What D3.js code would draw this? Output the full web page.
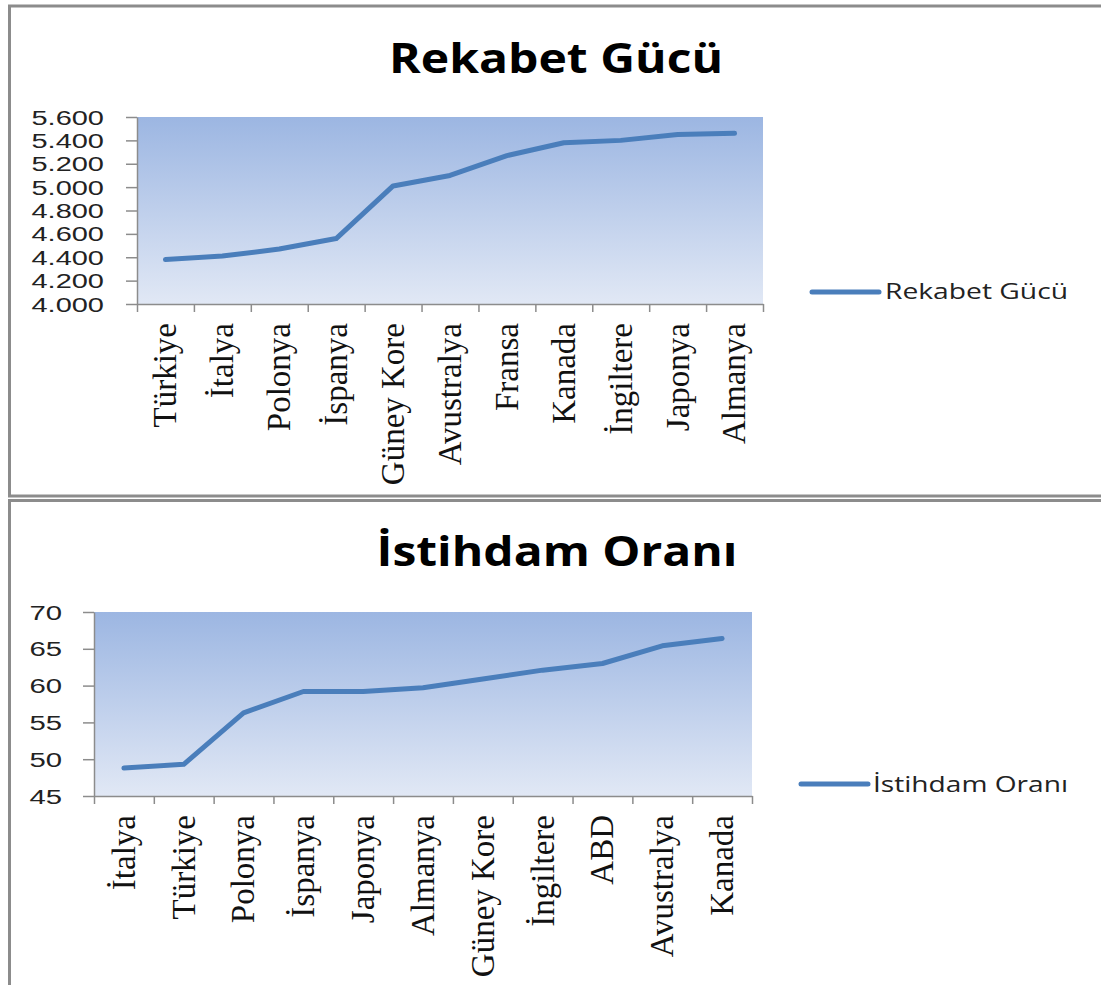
<!DOCTYPE html>
<html>
<head>
<meta charset="utf-8">
<script src="https://cdn.jsdelivr.net/npm/d3@7"></script>
<style>
  body { margin: 0; background: #fff; }
  svg { display: block; }
</style>
</head>
<body>
<div class="charts"></div>
<script>
// Rekabet Gücü
const rekabetCategories = ["Türkiye", "İtalya", "Polonya", "İspanya", "Güney Kore", "Avustralya", "Fransa", "Kanada", "İngiltere", "Japonya", "Almanya"];
const rekabetValues = [4.38, 4.41, 4.47, 4.56, 5.01, 5.10, 5.27, 5.38, 5.40, 5.45, 5.46];
const rekabetTicks = [4.0, 4.2, 4.4, 4.6, 4.8, 5.0, 5.2, 5.4, 5.6];

// İstihdam Oranı
const istihdamCategories = ["İtalya", "Türkiye", "Polonya", "İspanya", "Japonya", "Almanya", "Güney Kore", "İngiltere", "ABD", "Avustralya", "Kanada"];
const istihdamValues = [48.8, 49.3, 56.3, 59.2, 59.2, 59.7, 60.9, 62.1, 63.0, 65.4, 66.4];
const istihdamTicks = [45, 50, 55, 60, 65, 70];

const width = 1101;
const height = 985;
const lineColor = "#4a7ebb";
const axisColor = "#8c8c8c";

const svg = d3.select('.charts')
	.append('svg')
	.attr('width', width)
	.attr('height', height)

const defs = svg.append("defs");
const grad = defs.append("linearGradient")
	.attr("id", "plotFill")
	.attr("x1", 0).attr("y1", 0).attr("x2", 0).attr("y2", 1);
grad.append("stop").attr("offset", "0%").attr("stop-color", "#9cb6e2");
grad.append("stop").attr("offset", "100%").attr("stop-color", "#e1e8f5");

function drawChart(opt) {
	const g = svg.append("g");

	// chart frame
	g.append("rect")
		.attr("x", opt.box[0]).attr("y", opt.box[1])
		.attr("width", opt.box[2]).attr("height", opt.box[3])
		.attr("fill", "none")
		.attr("stroke", axisColor)
		.attr("stroke-width", 3)

	g.append("text")
		.text(opt.title)
		.attr("x", opt.titlePos[0])
		.attr("y", opt.titlePos[1])
		.attr("text-anchor", "middle")
		.attr("font-family", "Open Sans")
		.attr("font-weight", "bold")
		.attr("font-size", 42)
		.attr("textLength", opt.titlePos[2])
		.attr("lengthAdjust", "spacingAndGlyphs")
		.attr("fill", "#000")

	const p = opt.plot;
	const x = d3.scaleBand().domain(opt.categories).range([p.left, p.right]);
	const y = d3.scaleLinear().domain(d3.extent(opt.ticks)).range([p.bottom, p.top]);

	g.append("rect")
		.attr("x", p.left).attr("y", p.top)
		.attr("width", p.right - p.left).attr("height", p.bottom - p.top)
		.attr("fill", "url(#plotFill)")

	// y axis
	const yAxis = g.append("g")
		.attr("transform", "translate(" + p.left + ",0)")
		.call(d3.axisLeft(y).tickValues(opt.ticks).tickSize(11).tickSizeOuter(0).tickFormat(opt.format));
	yAxis.select(".domain").attr("stroke", axisColor).attr("stroke-width", 1.5);
	yAxis.selectAll(".tick line").attr("stroke", axisColor).attr("stroke-width", 1.5);
	yAxis.selectAll(".tick text")
		.attr("x", -(p.left - opt.labelEnd))
		.attr("dy", "0.35em")
		.attr("font-family", "Liberation Sans")
		.attr("font-size", 20)
		.attr("fill", "#222")
		.attr("textLength", function(d){ return opt.format(d).length * opt.charW; })
		.attr("lengthAdjust", "spacingAndGlyphs")

	// x axis: boundary ticks
	const edge = d3.scaleLinear().domain([0, opt.categories.length]).range([p.left, p.right]);
	const xTicks = g.append("g")
		.attr("transform", "translate(0," + p.bottom + ")")
		.call(d3.axisBottom(edge).tickValues(d3.range(opt.categories.length + 1)).tickSize(8).tickSizeOuter(0).tickFormat(""));
	xTicks.select(".domain").attr("stroke", axisColor).attr("stroke-width", 1.5);
	xTicks.selectAll(".tick line").attr("stroke", axisColor).attr("stroke-width", 1.5);

	// x axis: category names
	const xLabels = g.append("g")
		.attr("transform", "translate(0," + p.bottom + ")")
		.call(d3.axisBottom(x).tickSize(0));
	xLabels.select(".domain").remove();
	xLabels.selectAll(".tick text")
		.attr("transform", "rotate(-90)")
		.attr("x", -19)
		.attr("y", 0)
		.attr("dy", "0.33em")
		.attr("text-anchor", "end")
		.attr("font-family", "Liberation Serif")
		.attr("font-size", 33)
		.attr("fill", "#111")

	// series line
	const line = d3.line()
		.x(function(d, i){ return x(opt.categories[i]) + x.bandwidth() / 2; })
		.y(function(d){ return y(d); });

	g.append("path")
		.datum(opt.values)
		.attr("d", line)
		.attr("fill", "none")
		.attr("stroke", lineColor)
		.attr("stroke-width", 5)
		.attr("stroke-linejoin", "round")
		.attr("stroke-linecap", "round")

	// legend
	const l = opt.legend;
	g.append("line")
		.attr("x1", l.x1).attr("x2", l.x2)
		.attr("y1", l.y).attr("y2", l.y)
		.attr("stroke", lineColor)
		.attr("stroke-width", 5)
		.attr("stroke-linecap", "round")
	g.append("text")
		.text(opt.title)
		.attr("x", l.tx)
		.attr("y", l.ty)
		.attr("font-family", "Open Sans")
		.attr("font-size", 21)
		.attr("fill", "#222")
		.attr("textLength", l.tw)
		.attr("lengthAdjust", "spacingAndGlyphs")
}

drawChart({
	title: "Rekabet Gücü",
	categories: rekabetCategories,
	values: rekabetValues,
	ticks: rekabetTicks,
	format: d3.format(".3f"),
	box: [9.5, 6, 1100, 490],
	titlePos: [556, 73, 334],
	plot: {left: 137, right: 763, top: 117, bottom: 304},
	labelEnd: 104,
	charW: 14.5,
	legend: {x1: 812, x2: 879, y: 292, tx: 885, ty: 299, tw: 183}
});

drawChart({
	title: "İstihdam Oranı",
	categories: istihdamCategories,
	values: istihdamValues,
	ticks: istihdamTicks,
	format: d3.format("d"),
	box: [9.5, 500.5, 1100, 500],
	titlePos: [557, 566, 361],
	plot: {left: 94, right: 752, top: 612, bottom: 796},
	labelEnd: 62,
	charW: 16.3,
	legend: {x1: 801, x2: 868, y: 784, tx: 873, ty: 792, tw: 195}
});
</script>
</body>
</html>
